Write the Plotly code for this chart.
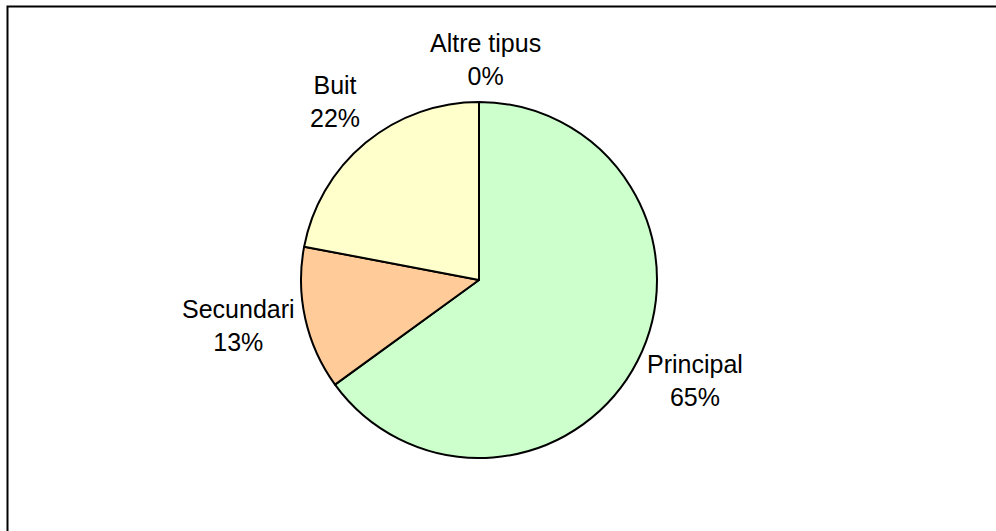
import plotly.graph_objects as go

# ---- data ----
categories = ["Principal", "Secundari", "Buit", "Altre tipus"]
values = [65, 13, 22, 0]

# ---- style / layout ----
colors = ["#CCFFCC", "#FFCC99", "#FFFFCC", "#99CCFF"]
W, H = 996, 531
cx, cy, R = 479, 280, 178          # pie centre / radius in px
# label centre offsets from the pie centre, px (layout only)
label_offsets = [(216, 100), (-241, 45), (-144, -179), (6, -220)]
FONT = "Liberation Sans, Arial, sans-serif"

fig = go.Figure()
fig.add_trace(go.Pie(
    labels=categories,
    values=values,
    sort=False,
    direction="clockwise",
    rotation=0,
    textinfo="none",
    marker=dict(colors=colors, line=dict(color="black", width=2)),
    domain=dict(x=[(cx - R) / W, (cx + R) / W],
                y=[1 - (cy + R) / H, 1 - (cy - R) / H]),
    showlegend=False,
    hoverinfo="label+percent",
))

total = sum(values)
annotations = []
for name, v, (dx, dy) in zip(categories, values, label_offsets):
    pct = round(v / total * 100)
    annotations.append(dict(
        x=(cx + dx) / W, y=1 - (cy + dy) / H, xref="paper", yref="paper",
        text=f"{name}<br>{pct}%", showarrow=False,
        xanchor="center", yanchor="middle", align="center",
        font=dict(family=FONT, size=25, color="black"),
    ))

fig.update_layout(
    width=W, height=H,
    margin=dict(l=0, r=0, t=0, b=0),
    paper_bgcolor="white",
    plot_bgcolor="white",
    annotations=annotations,
    shapes=[dict(type="rect", xref="paper", yref="paper",
                 x0=7.5 / W, x1=1.05, y0=-0.05, y1=1 - 6.5 / H,
                 line=dict(color="black", width=2))],
)

fig.write_html(
    "out.html",
    config={"displayModeBar": False},
    post_script="document.body.style.margin='0';document.body.style.overflow='hidden';",
)
